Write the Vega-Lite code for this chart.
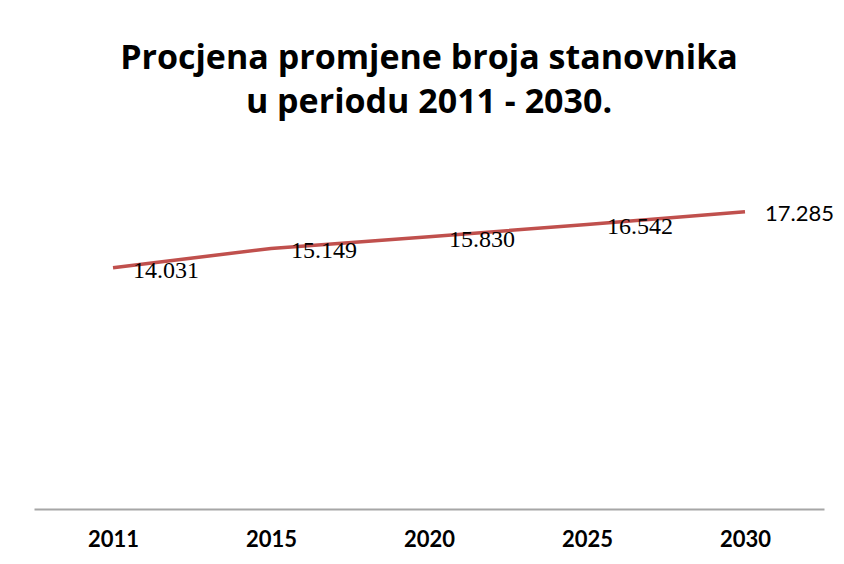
{
  "$schema": "https://vega.github.io/schema/vega-lite/v6.json",
  "width": 790,
  "height": 344,
  "autosize": {"type": "none"},
  "padding": {"left": 34, "top": 165, "right": 20, "bottom": 55},
  "background": "white",
  "title": {
    "text": ["Procjena promjene broja stanovnika", "u periodu 2011 - 2030."],
    "font": "Open Sans",
    "fontSize": 34,
    "fontWeight": "bold",
    "color": "black",
    "lineHeight": 44,
    "anchor": "middle",
    "offset": 45
  },
  "data": {
    "values": [
      {"year": "2011", "value": 14.031},
      {"year": "2015", "value": 15.149},
      {"year": "2020", "value": 15.830},
      {"year": "2025", "value": 16.542},
      {"year": "2030", "value": 17.285}
    ]
  },
  "encoding": {
    "x": {
      "field": "year",
      "type": "ordinal",
      "scale": {"type": "point", "padding": 0.5},
      "axis": {
        "title": null,
        "labelAngle": 0,
        "labelFont": "Lato",
        "labelFontWeight": "bold",
        "labelFontSize": 22,
        "labelColor": "black",
        "labelPadding": 20,
        "ticks": false,
        "domainColor": "#a6a6a6",
        "domainWidth": 2,
        "grid": false
      }
    },
    "y": {
      "field": "value",
      "type": "quantitative",
      "scale": {"domain": [0, 20]},
      "axis": null
    }
  },
  "layer": [
    {
      "mark": {"type": "line", "color": "#C0504D", "strokeWidth": 3.5}
    },
    {
      "transform": [{"filter": "datum.year != '2030'"}],
      "mark": {"type": "text", "align": "left", "baseline": "middle", "dx": 20, "dy": 3, "font": "Liberation Serif", "fontSize": 24, "color": "black"},
      "encoding": {"text": {"field": "value", "type": "quantitative", "format": ".3f"}}
    },
    {
      "transform": [{"filter": "datum.year == '2030'"}],
      "mark": {"type": "text", "align": "left", "baseline": "middle", "dx": 20, "dy": 2, "font": "Lato", "fontSize": 22, "color": "black"},
      "encoding": {"text": {"field": "value", "type": "quantitative", "format": ".3f"}}
    }
  ],
  "config": {"view": {"stroke": null}}
}
